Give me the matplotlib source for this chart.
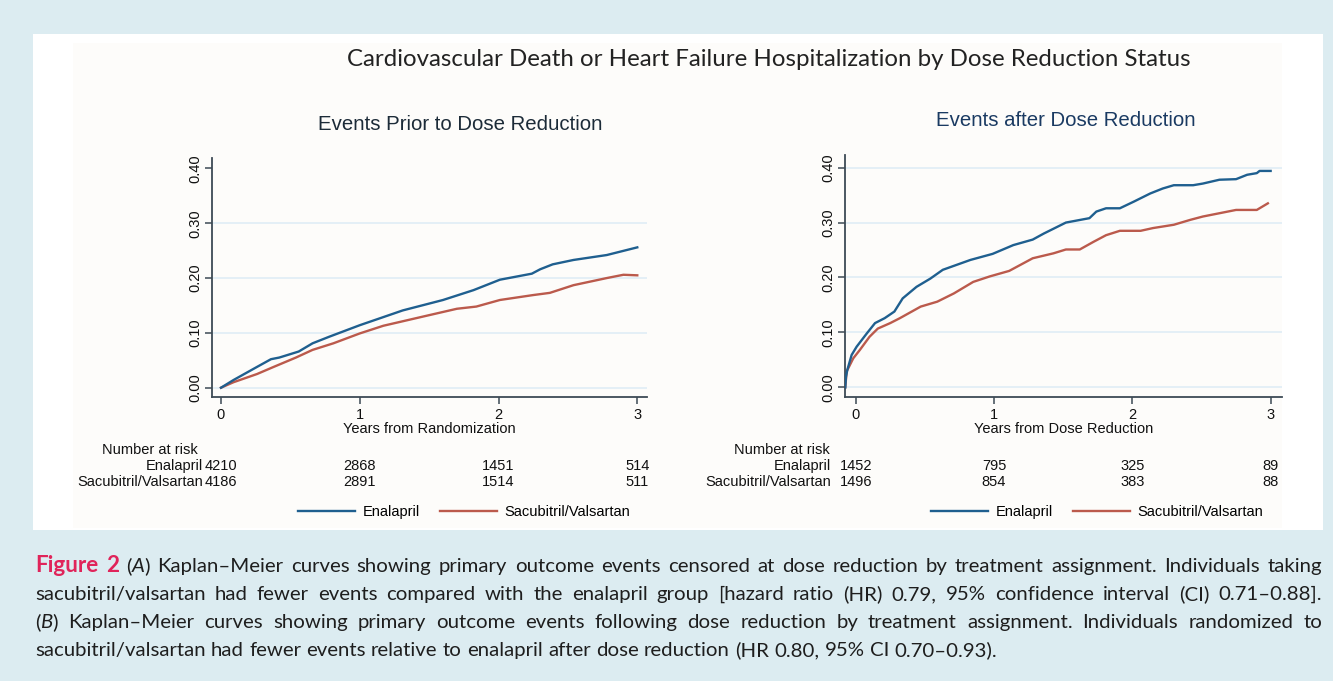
import matplotlib
matplotlib.use('Agg')
import matplotlib.pyplot as plt
import matplotlib.transforms as mtransforms
from matplotlib.lines import Line2D
from matplotlib.patches import Rectangle

W, H = 1333, 681

# ---- data ----
# panel A: events prior to dose reduction (years from randomization)
enal_a_t = [0, 0.09, 0.26, 0.36, 0.42, 0.56, 0.66, 0.78, 1.0, 1.31, 1.6, 1.82, 2.01, 2.24, 2.30, 2.39, 2.54, 2.78, 3.0]
enal_a_y = [0, 0.014, 0.038, 0.052, 0.055, 0.066, 0.081, 0.093, 0.114, 0.141, 0.160, 0.178, 0.197, 0.208, 0.216, 0.225, 0.233, 0.242, 0.256]
sacu_a_t = [0, 0.09, 0.26, 0.38, 0.54, 0.66, 0.81, 1.0, 1.17, 1.46, 1.70, 1.84, 2.01, 2.25, 2.37, 2.54, 2.78, 2.90, 3.0]
sacu_a_y = [0, 0.010, 0.025, 0.038, 0.055, 0.069, 0.081, 0.099, 0.113, 0.130, 0.144, 0.148, 0.160, 0.169, 0.173, 0.187, 0.200, 0.206, 0.205]

# panel B: events after dose reduction (years from dose reduction)
enal_b_t = [-0.075, -0.07, -0.06, -0.029, 0.007, 0.08, 0.14, 0.21, 0.28, 0.34, 0.44, 0.54, 0.63, 0.73, 0.83, 0.99,
            1.14, 1.28, 1.36, 1.52, 1.69, 1.74, 1.81, 1.91, 2.01, 2.13, 2.22, 2.30, 2.44, 2.51, 2.63, 2.75, 2.83,
            2.90, 2.92, 3.0]
enal_b_y = [0, 0.019, 0.032, 0.059, 0.074, 0.098, 0.117, 0.126, 0.138, 0.162, 0.183, 0.198, 0.214, 0.223, 0.232, 0.243,
            0.259, 0.269, 0.280, 0.300, 0.308, 0.320, 0.326, 0.326, 0.338, 0.353, 0.362, 0.368, 0.368, 0.371, 0.378,
            0.379, 0.387, 0.390, 0.394, 0.394]
sacu_b_t = [-0.075, -0.065, -0.017, 0.03, 0.10, 0.16, 0.25, 0.32, 0.47, 0.59, 0.71, 0.85, 0.97, 1.11, 1.28, 1.43,
            1.52, 1.62, 1.72, 1.81, 1.91, 2.06, 2.15, 2.30, 2.42, 2.51, 2.63, 2.75, 2.90, 2.94, 2.98]
sacu_b_y = [0, 0.029, 0.053, 0.068, 0.092, 0.107, 0.117, 0.126, 0.147, 0.156, 0.171, 0.192, 0.202, 0.212, 0.235, 0.244,
            0.251, 0.251, 0.265, 0.277, 0.285, 0.285, 0.290, 0.296, 0.305, 0.311, 0.317, 0.323, 0.323, 0.329, 0.335]

risk_times = [0, 1, 2, 3]
risk_enal_a = [4210, 2868, 1451, 514]
risk_sacu_a = [4186, 2891, 1514, 511]
risk_enal_b = [1452, 795, 325, 89]
risk_sacu_b = [1496, 854, 383, 88]

groups = ['Enalapril', 'Sacubitril/Valsartan']
yticks = [0.0, 0.1, 0.2, 0.3, 0.4]
grid_a = [0.0, 0.1, 0.2, 0.3]
grid_b = [0.0, 0.1, 0.2, 0.3, 0.4]

suptitle = 'Cardiovascular Death or Heart Failure Hospitalization by Dose Reduction Status'
title_a = 'Events Prior to Dose Reduction'
title_b = 'Events after Dose Reduction'
xlabel_a = 'Years from Randomization'
xlabel_b = 'Years from Dose Reduction'

caption = [
    ([[('Figure', 'fig')], [('2', 'fig')], [('(', ''), ('A', 'it'), (')', '')]] +
     'Kaplan\u2013Meier curves showing primary outcome events censored at dose reduction by treatment assignment. Individuals taking'.split(), True),
    ('sacubitril/valsartan had fewer events compared with the enalapril group [hazard ratio (HR) 0.79, 95% confidence interval (CI) 0.71\u20130.88].'.split(), True),
    ([[('(', ''), ('B', 'it'), (')', '')]] +
     'Kaplan\u2013Meier curves showing primary outcome events following dose reduction by treatment assignment. Individuals randomized to'.split(), True),
    ('sacubitril/valsartan had fewer events relative to enalapril after dose reduction (HR 0.80, 95% CI 0.70\u20130.93).'.split(), False),
]

BLUE = '#1f5f8f'
RED = '#bb5a4c'
BG = '#dcecf1'
AX_COL = '#3d4a55'
TXT = '#111111'
ARIAL = 'Liberation Sans'


def fy(px):
    return 1 - px / H


fig = plt.figure(figsize=(W / 100, H / 100), dpi=100)
fig.patch.set_facecolor(BG)
fig.patches.append(Rectangle((33 / W, fy(530)), (1323 - 33) / W, (530 - 34) / H,
                             transform=fig.transFigure, facecolor='white', edgecolor='none', zorder=-2))
fig.patches.append(Rectangle((73 / W, fy(528)), (1282 - 73) / W, (528 - 43) / H,
                             transform=fig.transFigure, facecolor='#fdfcfa', edgecolor='none', zorder=-1))

fig.text(769 / W, fy(59), suptitle, ha='center', va='center', fontsize=17.3, family='Lato', color='#222222')


def km_panel(rect, xlim, ylim, title, title_xy, title_col, xlabel, curves, grid, risk_e, risk_s,
             lab_x, nar_x, legend_x):
    ax = fig.add_axes(rect)
    ax.set_facecolor('none')
    ax.set_xlim(*xlim)
    ax.set_ylim(*ylim)
    for g in grid:
        ax.axhline(g, color='#e2eef6', lw=1.3, zorder=0)
    (te, ye), (ts, ys) = curves
    ax.plot(ts, ys, color=RED, lw=1.7, zorder=2)
    ax.plot(te, ye, color=BLUE, lw=1.7, zorder=3)
    for s in ['top', 'right']:
        ax.spines[s].set_visible(False)
    for s in ['left', 'bottom']:
        ax.spines[s].set_color(AX_COL)
        ax.spines[s].set_linewidth(1.3)
    ax.set_xticks(risk_times)
    ax.set_yticks(yticks)
    ax.set_yticklabels(['%.2f' % v for v in yticks], rotation=90, va='center')
    ax.tick_params(colors=AX_COL, length=5, width=1.1, labelcolor=TXT, labelsize=10.5)
    ax.tick_params(axis='y', pad=2)
    ax.tick_params(axis='x', pad=3)
    for lab in ax.get_xticklabels() + ax.get_yticklabels():
        lab.set_family(ARIAL)
    ax.set_xlabel(xlabel, family=ARIAL, fontsize=10.5, color=TXT, labelpad=0)
    fig.text(title_xy[0] / W, fy(title_xy[1]), title, ha='center', va='center',
             fontsize=14.7, family=ARIAL, color=title_col)

    tr = mtransforms.blended_transform_factory(ax.transData, fig.transFigure)
    ax.text(nar_x, fy(450), 'Number at risk', transform=tr, ha='left', va='center',
            family=ARIAL, fontsize=10.5, color=TXT, clip_on=False)
    for yy, name, vals in [(466, groups[0], risk_e), (482, groups[1], risk_s)]:
        ax.text(lab_x, fy(yy), name, transform=tr, ha='right', va='center',
                family=ARIAL, fontsize=10.5, color=TXT, clip_on=False)
        for t, v in zip(risk_times, vals):
            ax.text(t, fy(yy), str(v), transform=tr, ha='center', va='center',
                    family=ARIAL, fontsize=10.5, color=TXT, clip_on=False)

    handles = [Line2D([], [], color=BLUE, lw=1.7), Line2D([], [], color=RED, lw=1.7)]
    ax.legend(handles, groups, loc='center', bbox_to_anchor=(legend_x / W, fy(512)),
              bbox_transform=fig.transFigure, ncol=2, frameon=False, handlelength=3.9,
              handletextpad=0.5, columnspacing=1.4, prop={'family': ARIAL, 'size': 10.5})
    return ax


km_panel([211.7 / W, fy(396.7), (647 - 211.7) / W, (396.7 - 158) / H], (-0.067, 3.07), (-0.0164, 0.419),
         title_a, (460, 124), '#1c2b38', xlabel_a,
         [(enal_a_t, enal_a_y), (sacu_a_t, sacu_a_y)], grid_a, risk_enal_a, risk_sacu_a,
         -0.13, -0.86, 464)
km_panel([845 / W, fy(396.7), (1281.7 - 845) / W, (396.7 - 155) / H], (-0.077, 3.08), (-0.017, 0.423),
         title_b, (1066, 120), '#1a3a62', xlabel_b,
         [(enal_b_t, enal_b_y), (sacu_b_t, sacu_b_y)], grid_b, risk_enal_b, risk_sacu_b,
         -0.18, -0.88, 1097)

# ---- caption, justified like the journal text ----
CAP_FONT = 'Lato'
CAP_SIZE = 14.7
styles = {
    '': dict(color='#1e1e1e'),
    'it': dict(color='#1e1e1e', style='italic'),
    'fig': dict(color='#e0245a', weight='bold', size=CAP_SIZE * 1.1),
}
renderer = fig.canvas.get_renderer()


def word_pieces(word):
    return word if isinstance(word, list) else [(word, '')]


def draw_caption_line(words, y, justify, x0=35, x1=1322):
    items = []
    for w in words:
        parts = []
        for txt, st in word_pieces(w):
            kw = dict(family=CAP_FONT, size=CAP_SIZE)
            kw.update(styles[st])
            t = fig.text(0, fy(y), txt, ha='left', va='baseline', **kw)
            parts.append((t, t.get_window_extent(renderer).width))
        items.append(parts)
    widths = [sum(p[1] for p in parts) for parts in items]
    sp = fig.text(0, 0, 'a a', family=CAP_FONT, size=CAP_SIZE)
    sp2 = fig.text(0, 0, 'aa', family=CAP_FONT, size=CAP_SIZE)
    space = sp.get_window_extent(renderer).width - sp2.get_window_extent(renderer).width
    sp.remove()
    sp2.remove()
    if justify and len(items) > 1:
        gap = (x1 - x0 - sum(widths)) / (len(items) - 1)
    else:
        gap = space
    x = x0
    for parts, wdt in zip(items, widths):
        xx = x
        for t, pw in parts:
            t.set_x(xx / W)
            xx += pw
        x += wdt + gap


for i, (words, just) in enumerate(caption):
    draw_caption_line(words, 572 + 28 * i, just)

fig.savefig('out.png', dpi=100, facecolor=BG)
